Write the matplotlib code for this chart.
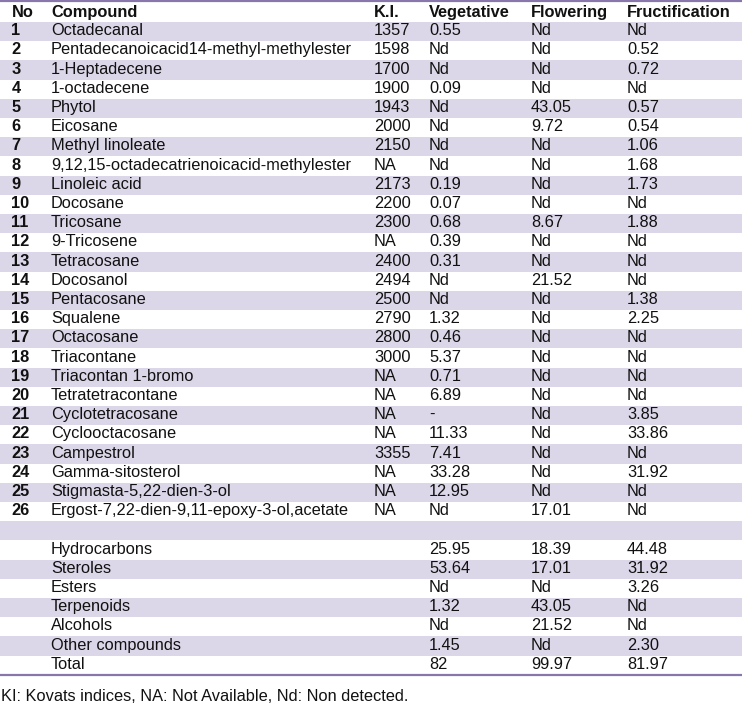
import matplotlib
matplotlib.use("Agg")
import matplotlib.pyplot as plt
from matplotlib.patches import Rectangle

plt.rcParams['font.family'] = ['Liberation Sans', 'DejaVu Sans']

headers = ["No", "Compound", "K.I.", "Vegetative", "Flowering", "Fructification"]

numbers = [str(i) for i in range(1, 27)]
compounds = [
    "Octadecanal", "Pentadecanoicacid14-methyl-methylester", "1-Heptadecene",
    "1-octadecene", "Phytol", "Eicosane", "Methyl linoleate",
    "9,12,15-octadecatrienoicacid-methylester", "Linoleic acid", "Docosane",
    "Tricosane", "9-Tricosene", "Tetracosane", "Docosanol", "Pentacosane",
    "Squalene", "Octacosane", "Triacontane", "Triacontan 1-bromo",
    "Tetratetracontane", "Cyclotetracosane", "Cyclooctacosane", "Campestrol",
    "Gamma-sitosterol", "Stigmasta-5,22-dien-3-ol",
    "Ergost-7,22-dien-9,11-epoxy-3-ol,acetate",
]
kovats = ["1357", "1598", "1700", "1900", "1943", "2000", "2150", "NA", "2173",
          "2200", "2300", "NA", "2400", "2494", "2500", "2790", "2800", "3000",
          "NA", "NA", "NA", "NA", "3355", "NA", "NA", "NA"]
vegetative = ["0.55", "Nd", "Nd", "0.09", "Nd", "Nd", "Nd", "Nd", "0.19", "0.07",
              "0.68", "0.39", "0.31", "Nd", "Nd", "1.32", "0.46", "5.37", "0.71",
              "6.89", "-", "11.33", "7.41", "33.28", "12.95", "Nd"]
flowering = ["Nd", "Nd", "Nd", "Nd", "43.05", "9.72", "Nd", "Nd", "Nd", "Nd",
             "8.67", "Nd", "Nd", "21.52", "Nd", "Nd", "Nd", "Nd", "Nd", "Nd",
             "Nd", "Nd", "Nd", "Nd", "Nd", "17.01"]
fructification = ["Nd", "0.52", "0.72", "Nd", "0.57", "0.54", "1.06", "1.68",
                  "1.73", "Nd", "1.88", "Nd", "Nd", "Nd", "1.38", "2.25", "Nd",
                  "Nd", "Nd", "Nd", "3.85", "33.86", "Nd", "31.92", "Nd", "Nd"]

classes = ["Hydrocarbons", "Steroles", "Esters", "Terpenoids", "Alcohols",
           "Other compounds", "Total"]
class_veg = ["25.95", "53.64", "Nd", "1.32", "Nd", "1.45", "82"]
class_flow = ["18.39", "17.01", "Nd", "43.05", "21.52", "Nd", "99.97"]
class_fruct = ["44.48", "31.92", "3.26", "Nd", "Nd", "2.30", "81.97"]

footnote = "KI: Kovats indices, NA: Not Available, Nd: Non detected."

W, H = 742, 704
fig = plt.figure(figsize=(W / 100, H / 100), dpi=100)
ax = fig.add_axes([0, 0, 1, 1])
ax.set_xlim(0, W)
ax.set_ylim(H, 0)
ax.axis('off')

col_x = [11.5, 51, 374, 429, 531, 627]
shade = "#dcd7e8"
line_c = "#8877aa"
fs = 11.8
row_h = 19.2
first_top = 22.0

rows = []
for i in range(26):
    rows.append([numbers[i], compounds[i], kovats[i], vegetative[i],
                 flowering[i], fructification[i]])
rows.append(["", "", "", "", "", ""])
for i in range(len(classes)):
    rows.append(["", classes[i], "", class_veg[i], class_flow[i], class_fruct[i]])

for r, cells in enumerate(rows):
    top = first_top + r * row_h
    if r % 2 == 0:
        ax.add_patch(Rectangle((0, top), W, row_h, facecolor=shade,
                               edgecolor='none', zorder=0))
    base = top + 13.2
    for c, txt in enumerate(cells):
        if not txt:
            continue
        ax.text(col_x[c], base, txt, fontsize=fs, va='baseline', ha='left',
                fontweight='bold' if c == 0 else 'normal', color='#111111')

for c, h in enumerate(headers):
    ax.text(col_x[c], 17.4, h, fontsize=fs, va='baseline', ha='left',
            fontweight='bold', color='#111111')

bottom = first_top + len(rows) * row_h
ax.plot([0, W], [1.2, 1.2], color=line_c, lw=1.6, solid_capstyle='butt')
ax.plot([0, W], [bottom, bottom], color=line_c, lw=1.6, solid_capstyle='butt')

ax.text(1, 701, footnote, fontsize=fs, va='baseline', ha='left', color='#111111')

fig.savefig("out.png", dpi=100, facecolor='white')
